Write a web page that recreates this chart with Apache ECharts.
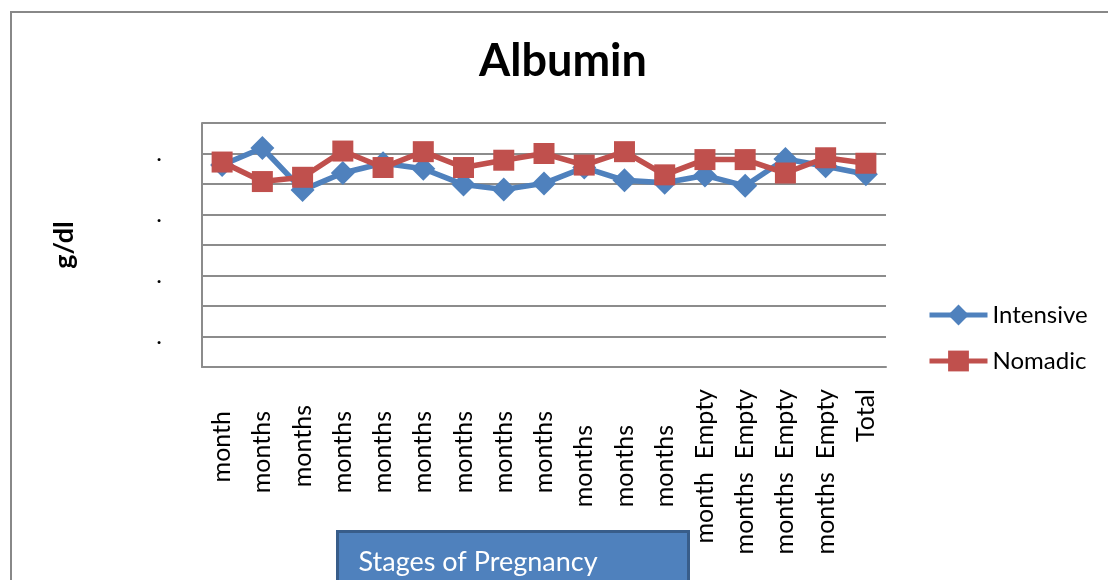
<!DOCTYPE html>
<html>
<head>
<meta charset="utf-8">
<title>Albumin</title>
<script src="https://cdn.jsdelivr.net/npm/echarts@6/dist/echarts.min.js"></script>
<style>
	html, body { margin: 0; padding: 0; background: #fff; }
	#main { width: 1108px; height: 580px; }
</style>
</head>
<body>
<div id="main"></div>
<script>
	// stages along the x axis (as shown in the picture)
	const stages = [
		'month', 'months', 'months', 'months', 'months', 'months',
		'months', 'months', 'months', 'months', 'months', 'months',
		'month  Empty', 'months  Empty', 'months  Empty', 'months  Empty', 'Total'
	];

	const intensive = [3.31, 3.59, 2.90, 3.18, 3.34, 3.25, 2.99, 2.91, 3.01, 3.27, 3.06, 3.02, 3.14, 2.97, 3.41, 3.29, 3.16];
	const nomadic = [3.36, 3.04, 3.11, 3.54, 3.27, 3.53, 3.27, 3.39, 3.50, 3.31, 3.53, 3.15, 3.40, 3.40, 3.18, 3.43, 3.34];

	// y axis: 0..4, gridline every 0.5, labels only at the half steps
	const yMin = 0;
	const yMax = 4;
	const yStep = 0.5;

	// extra gap above some rotated labels, as in the picture
	const labelShift = ['b', 'b', 'c', 'b', 'b', 'b', 'b', 'b', 'b', 'd', 'd', 'd', 'a', 'a', 'a', 'a', 'a'];

	const font = 'Lato, "Noto Sans", sans-serif';
	const blue = '#4F81BD';
	const red = '#C0504D';
	const gridColor = '#8C8C8C';

	const myChart = echarts.init(document.getElementById('main'));

	const rich = {};
	[['a', 0], ['b', 22], ['c', 16], ['d', 36]].forEach(([k, pad]) => {
		rich[k] = { fontFamily: font, fontSize: 25, color: '#000', padding: [0, pad, 0, 0] };
	});

	const option = {
		backgroundColor: '#fff',
		animation: false,
		title: {
			text: 'Albumin',
			left: 558,
			top: 34,
			textAlign: 'center',
			textStyle: {
				fontFamily: font,
				fontWeight: 'bold',
				fontSize: 45,
				color: '#000'
			}
		},
		legend: {
			orient: 'vertical',
			left: 922,
			top: 298,
			itemWidth: 58,
			itemHeight: 26,
			itemGap: 22,
			lineStyle: { width: 5 },
			textStyle: {
				fontFamily: font,
				fontSize: 24,
				color: '#000'
			},
			data: ['Intensive', 'Nomadic']
		},
		grid: {
			left: 202,
			right: 222,
			top: 123,
			bottom: 213,
			containLabel: false
		},
		xAxis: {
			type: 'category',
			data: stages,
			boundaryGap: true,
			axisLine: { show: true, lineStyle: { color: gridColor, width: 2 } },
			axisTick: { show: false },
			axisLabel: {
				interval: 0,
				rotate: 90,
				margin: 22,
				fontFamily: font,
				fontSize: 25,
				color: '#000',
				formatter: (value, idx) => '{' + labelShift[idx] + '|' + value + '}',
				rich: rich
			}
		},
		yAxis: {
			type: 'value',
			min: yMin,
			max: yMax,
			interval: yStep,
			name: 'g/dl',
			nameLocation: 'middle',
			nameGap: 124,
			nameTextStyle: {
				fontFamily: font,
				fontWeight: 'bold',
				fontSize: 27,
				color: '#000'
			},
			axisLine: { show: true, lineStyle: { color: gridColor, width: 2 } },
			axisTick: { show: false },
			splitLine: { show: true, lineStyle: { color: gridColor, width: 2 } },
			axisLabel: {
				margin: 40,
				fontFamily: font,
				fontSize: 24,
				color: '#000',
				formatter: (v) => (Math.abs((v % 1) - 0.5) < 1e-6 ? '.' : '')
			}
		},
		graphic: [
			{
				type: 'rect',
				shape: { x: 11, y: 12, width: 1200, height: 700 },
				style: { fill: 'none', stroke: '#888', lineWidth: 2 },
				silent: true
			},
			{
				type: 'group',
				left: 336,
				top: 530,
				children: [
					{
						type: 'rect',
						shape: { x: 0, y: 0, width: 351, height: 70 },
						style: { fill: blue, stroke: '#385D8A', lineWidth: 3 }
					},
					{
						type: 'text',
						x: 21,
						y: 31,
						style: {
							text: 'Stages of Pregnancy',
							fill: '#fff',
							font: '27px ' + font,
							verticalAlign: 'middle'
						}
					}
				]
			}
		],
		series: [
			{
				name: 'Intensive',
				type: 'line',
				data: intensive,
				symbol: 'diamond',
				symbolSize: 24,
				lineStyle: { color: blue, width: 5.5 },
				itemStyle: { color: blue },
				z: 2
			},
			{
				name: 'Nomadic',
				type: 'line',
				data: nomadic,
				symbol: 'rect',
				symbolSize: 21,
				lineStyle: { color: red, width: 5.5 },
				itemStyle: { color: red },
				z: 3
			}
		]
	};

	myChart.setOption(option);
</script>
</body>
</html>
